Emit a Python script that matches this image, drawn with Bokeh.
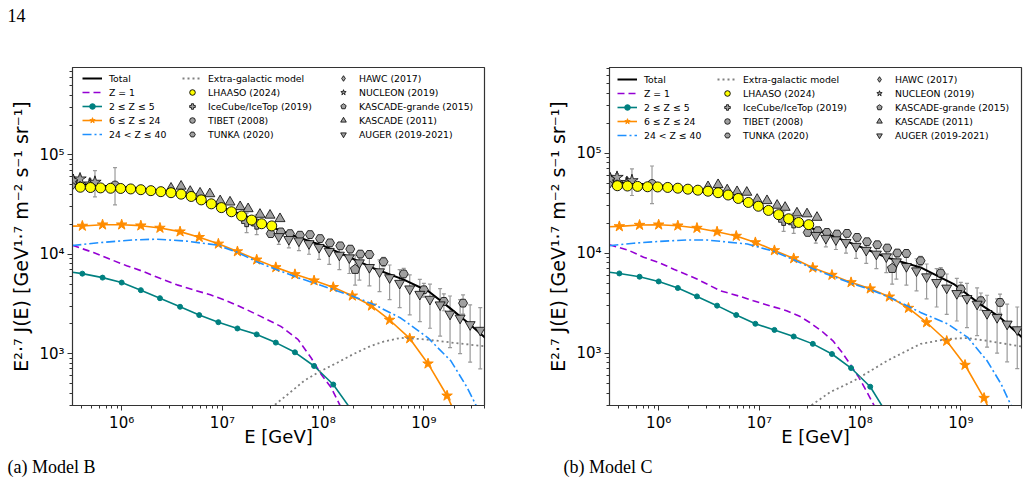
from bokeh.plotting import figure
from bokeh.layouts import row, column
from bokeh.models import (ColumnDataSource, Legend, LegendItem, Title, FixedTicker,
                          CustomJSTickFormatter, Whisker, TeeHead, Range1d)
from bokeh.core.properties import value
from bokeh.embed import file_html
from bokeh.resources import INLINE

FONT = "DejaVu Sans"
SERIF = "Liberation Serif"

# ---------------- model components (E in GeV, E^2.7 J in GeV^1.7 m^-2 s^-1 sr^-1) -------------
# star / dot positions of the 6<=Z<=24 and 2<=Z<=5 curves
E_grid = [3.24e5, 4.07e5, 6.46e5, 1.00e6, 1.55e6, 2.40e6, 3.80e6, 5.89e6, 9.12e6, 1.41e7, 2.19e7,
          3.39e7, 5.25e7, 8.13e7, 1.26e8, 1.95e8, 3.02e8, 4.57e8, 7.24e8, 1.10e9, 1.70e9, 2.51e9]

# Model B
B_cno = [19190, 19280, 19860, 19860, 19410, 18410, 16900, 14860, 12740, 10670, 8810,
         7380, 6280, 5430, 4660, 3820, 3030, 2180, 1420, 791, 376, 158]
B_he_E = [3.24e5, 4.07e5, 6.46e5, 1.00e6, 1.55e6, 2.40e6, 3.80e6, 5.89e6, 9.12e6, 1.41e7, 2.19e7,
          3.39e7, 5.25e7, 8.13e7, 1.26e8, 1.78e8, 2.24e8]
B_he = [6580, 6380, 5820, 5190, 4350, 3610, 2960, 2440, 2070, 1790, 1560, 1290, 1030, 750, 488, 299, 200]
B_p_E = [3.24e5, 5.25e5, 7.59e5, 1.12e6, 1.66e6, 2.40e6, 3.55e6, 5.13e6, 7.59e6, 1.05e7, 1.58e7,
         2.40e7, 3.80e7, 5.62e7, 7.59e7, 9.55e7, 1.20e8, 1.45e8, 1.66e8]
B_p = [12300, 10420, 8950, 7670, 6680, 5730, 4920, 4390, 3910, 3470, 2900, 2370, 1880, 1390, 908,
       619, 455, 310, 224]
B_fe_E = [3.24e5, 6.17e5, 1.32e6, 2.24e6, 4.47e6, 8.91e6, 1.41e7, 2.19e7, 3.39e7, 5.25e7, 8.13e7,
          1.26e8, 2.00e8, 3.24e8, 5.89e8, 1.10e9, 1.86e9, 2.69e9, 3.31e9, 4.17e9]
B_fe = [12250, 13120, 13960, 14190, 13550, 12360, 10470, 8410, 7050, 5960, 5130, 4420, 3760, 3100,
        2280, 1440, 841, 455, 299, 141]
B_eg_E = [2.51e7, 3.39e7, 4.47e7, 6.46e7, 8.91e7, 1.38e8, 2.00e8, 2.95e8, 3.98e8, 5.89e8, 9.33e8,
          1.26e9, 2.00e9, 4.17e9]
B_eg = [251, 310, 389, 531, 646, 809, 989, 1190, 1320, 1440, 1400, 1360, 1280, 1180]
B_tot_E = [3.24e5, 6.31e5, 1.00e6, 1.58e6, 2.51e6, 3.55e6, 5.01e6, 8.91e6, 1.58e7, 2.82e7, 5.01e7,
           1.00e8, 1.78e8, 3.16e8, 6.31e8, 1.12e9, 1.78e9, 2.82e9, 4.17e9]
B_tot = [51300, 49000, 47500, 45700, 43700, 40900, 37200, 30900, 25100, 19500, 15500, 12200, 9440,
         7240, 5560, 4220, 2920, 2000, 1410]

# Model C
C_cno = [18410, 18540, 19140, 19280, 18840, 17860, 16410, 14860, 12820, 10670, 8870,
         7160, 6050, 5110, 4420, 3670, 2830, 2030, 1324, 762, 356, 151]
C_he = [6460, 6280, 5820, 5220, 4490, 3700, 2990, 2410, 1970, 1710, 1470, 1240, 982, 711, 462, 263, 178]
C_p_E = [3.24e5, 5.01e5, 7.08e5, 1.00e6, 1.41e6, 2.40e6, 4.07e6, 6.31e6, 8.71e6, 1.26e7, 1.86e7,
         2.51e7, 3.16e7, 4.17e7, 5.37e7, 6.61e7, 7.94e7, 9.55e7, 1.15e8, 1.38e8, 1.58e8]
C_p = [12160, 10720, 9120, 8090, 6920, 5520, 4220, 3720, 3350, 2990, 2660, 2340, 2030, 1660, 1330,
       1020, 780, 589, 422, 299, 214]
C_fe_E = [3.24e5, 5.62e5, 1.00e6, 1.91e6, 3.02e6, 7.59e6, 1.38e7, 2.19e7, 3.39e7, 5.25e7, 8.13e7,
          1.26e8, 2.00e8, 3.98e8, 7.41e8, 1.17e9, 1.82e9, 2.51e9, 3.16e9, 4.17e9]
C_fe = [11890, 12590, 13120, 13550, 13550, 12360, 10470, 8610, 7000, 5920, 5010, 4320, 3590, 2560,
        1960, 1440, 841, 492, 299, 132]
C_eg_E = [2.51e7, 3.24e7, 5.01e7, 8.71e7, 1.86e8, 3.98e8, 7.41e8, 1.17e9, 1.82e9, 4.17e9]
C_eg = [245, 299, 407, 531, 841, 1240, 1390, 1420, 1330, 1160]
C_tot_E = [3.24e5, 6.31e5, 1.00e6, 1.58e6, 2.24e6, 4.17e6, 7.59e6, 1.38e7, 2.51e7, 4.68e7, 8.51e7,
           1.82e8, 3.98e8, 8.51e8, 1.55e9, 2.45e9, 4.17e9]
C_tot = [51900, 49500, 47900, 45200, 42200, 39100, 32200, 25600, 19600, 15600, 12400, 9080, 7210,
         4920, 3100, 2280, 1400]

# ---------------- measurements ----------------
lhaaso_E = [3.89e5, 4.90e5, 6.17e5, 7.76e5, 9.77e5, 1.23e6, 1.55e6, 1.95e6, 2.45e6, 3.09e6,
            3.89e6, 4.90e6, 6.17e6, 7.76e6, 9.77e6, 1.23e7, 1.55e7, 1.95e7, 2.45e7, 3.09e7]
lhaaso_J = [47300, 47000, 46600, 46200, 46000, 45500, 44700, 43700, 42700, 41700,
            40300, 38200, 35300, 32200, 29500, 26800, 24300, 22100, 20300, 19300]

nucleon_E = [3.31e5, 3.86e5, 4.84e5, 5.43e5]
nucleon_J = [55300, 57300, 51000, 53100]
nucleon_lo = [50500, 52500, 45000, 37800]
nucleon_hi = [60500, 62500, 57000, 69600]

hawc_E = [3.31e5]
hawc_J = [52000]

tibet_E = [8.59e5]
tibet_J = [49200]
tibet_lo = [31400]
tibet_hi = [74500]

icetop_E = [1.74e7, 2.19e7]
icetop_J = [21300, 20100]
icetop_lo = [16500, 15800]
icetop_hi = [26000, 25000]

kascade_E = [3.09e6, 3.89e6, 4.79e6, 6.00e6, 7.50e6, 9.50e6, 1.19e7, 1.50e7, 1.80e7, 2.36e7,
             2.97e7, 3.73e7]
kascade_J = [46200, 48400, 42900, 41200, 40600, 34500, 33500, 30100, 28700, 25200, 24700, 22800]

tunka_E = [3.02e7, 3.80e7, 4.68e7, 5.89e7, 7.41e7, 9.33e7, 1.17e8, 1.48e8, 1.86e8, 2.34e8,
           2.88e8, 3.98e8, 6.31e8, 1.00e9, 1.58e9, 2.45e9]
tunka_J = [16140, 16790, 16140, 15560, 15780, 14390, 13030, 12160, 11270, 10050, 9950, 8410,
           6340, 4390, 3350, 3220]
tunka_lo = [15300, 15900, 15300, 14700, 14900, 13500, 12200, 11300, 10400, 9200, 9100, 7500,
            5500, 3700, 2700, 2500]
tunka_hi = [17000, 17700, 17000, 16400, 16700, 15300, 13900, 13000, 12100, 10900, 10800, 9300,
            7200, 5100, 4000, 3900]

kgrande_E = [2.08e8]
kgrande_J = [7050]
kgrande_lo = [4900]
kgrande_hi = [9800]

auger_E = [3.63e7, 4.57e7, 5.75e7, 7.24e7, 9.12e7, 1.15e8, 1.45e8, 1.82e8, 2.29e8, 2.88e8, 3.63e8,
           4.57e8, 5.75e8, 7.24e8, 9.12e8, 1.15e9, 1.45e9, 1.82e9, 2.29e9, 2.88e9, 3.63e9]
auger_J = [15100, 14130, 13650, 12820, 11750, 10720, 9820, 9230, 8220, 7380, 6680, 5820, 5110,
           4490, 3960, 3530, 3100, 2500, 2280, 1960, 1720]
auger_lo = [12600, 11600, 10900, 10000, 8900, 7900, 7000, 6400, 5500, 4800, 4200, 3500, 2900,
            2450, 2100, 1800, 1500, 1150, 1000, 820, 700]
auger_hi = [17300, 16300, 16000, 15200, 14100, 13100, 12200, 11600, 10500, 9600, 8800, 7800,
            7000, 6200, 5600, 5000, 4500, 3800, 3500, 3100, 2900]

# ---------------- styling ----------------
C_TOTAL = "#000000"
C_P = "#9400d3"
C_HE = "#008080"
C_CNO = "#ff8c00"
C_FE = "#1e90ff"
C_EG = "#808080"
C_DATA = "#a0a0a0"
C_ERR = "#9a9a9a"

Y_TITLE = "E\u00b2\u00b7\u2077 J(E) [GeV\u00b9\u00b7\u2077 m\u207b\u00b2 s\u207b\u00b9 sr\u207b\u00b9]"
X_TITLE = "E [GeV]"
HEADER_H = 34


def power_labels():
    return CustomJSTickFormatter(code="""
        const s = {"0":"\u2070","1":"\u00b9","2":"\u00b2","3":"\u00b3","4":"\u2074",
                   "5":"\u2075","6":"\u2076","7":"\u2077","8":"\u2078","9":"\u2079","-":"\u207b"};
        const e = Math.round(Math.log10(tick));
        return "10" + String(e).split("").map(c => s[c]).join("");
    """)


def errbars(p, E, lo, hi):
    src = ColumnDataSource(dict(E=E, lo=lo, hi=hi))
    w = Whisker(source=src, base="E", lower="lo", upper="hi", dimension="height",
                line_color=C_ERR, line_width=1.2, level="underlay",
                upper_head=TeeHead(size=4, line_color=C_ERR, line_width=1.2),
                lower_head=TeeHead(size=4, line_color=C_ERR, line_width=1.2))
    p.add_layout(w)


def panel(m, width, b_left, b_right, b_top, y_top, leg_x, leg_y, caption, cap_off):
    p = figure(width=width, height=485 - HEADER_H, x_axis_type="log", y_axis_type="log",
               x_range=Range1d(3.25e5, 4.0e9), y_range=Range1d(300, y_top),
               output_backend="svg", toolbar_location=None, title=None,
               min_border_left=b_left, min_border_right=b_right,
               min_border_top=b_top, min_border_bottom=80)
    p.grid.visible = False
    p.outline_line_color = "#333333"
    p.outline_line_width = 1.2
    p.background_fill_color = "white"
    p.border_fill_color = "white"

    p.xaxis.ticker = FixedTicker(ticks=[1e6, 1e7, 1e8, 1e9],
                                 minor_ticks=[k * 10 ** e for e in range(5, 10) for k in range(2, 10)])
    p.yaxis.ticker = FixedTicker(ticks=[1e3, 1e4, 1e5],
                                 minor_ticks=[k * 10 ** e for e in range(2, 6) for k in range(2, 10)])
    for ax in (p.xaxis[0], p.yaxis[0]):
        ax.formatter = power_labels()
        ax.major_label_text_font = FONT
        ax.major_label_text_font_size = "15px"
        ax.major_label_text_color = "black"
        ax.major_tick_out = 5
        ax.major_tick_in = 0
        ax.minor_tick_out = 3
        ax.minor_tick_in = 0
        ax.major_label_standoff = 3
        ax.axis_line_color = "#333333"
        ax.major_tick_line_color = "#333333"
        ax.minor_tick_line_color = "#333333"
        ax.axis_label_text_font = FONT
        ax.axis_label_text_font_style = "normal"
        ax.axis_label_text_color = "black"
    p.yaxis.axis_label = Y_TITLE
    p.yaxis.axis_label_text_font_size = "19px"
    p.yaxis.axis_label_standoff = 4
    p.xaxis.axis_label = X_TITLE
    p.xaxis.axis_label_text_font_size = "18px"
    p.xaxis.axis_label_standoff = -9

    # model components
    r_p = p.line(m["p_E"], m["p"], color=C_P, line_width=1.6, line_dash="7 4")
    r_he = p.line(m["he_E"], m["he"], color=C_HE, line_width=1.6)
    r_he_m = p.scatter(m["he_E"][1:15], m["he"][1:15], marker="circle", size=5, color=C_HE)
    r_cno = p.line(E_grid, m["cno"], color=C_CNO, line_width=1.6)
    r_cno_m = p.scatter(E_grid[1:21], m["cno"][1:21], marker="star", size=11, color=C_CNO)
    r_fe = p.line(m["fe_E"], m["fe"], color=C_FE, line_width=1.6, line_dash="9 3 2 3")
    r_eg = p.line(m["eg_E"], m["eg"], color=C_EG, line_width=1.8, line_dash="2 3")
    r_tot = p.line(m["tot_E"], m["tot"], color=C_TOTAL, line_width=2.0)

    # measurements
    errbars(p, nucleon_E, nucleon_lo, nucleon_hi)
    errbars(p, tibet_E, tibet_lo, tibet_hi)
    errbars(p, icetop_E, icetop_lo, icetop_hi)
    errbars(p, tunka_E, tunka_lo, tunka_hi)
    errbars(p, kgrande_E, kgrande_lo, kgrande_hi)
    errbars(p, auger_E, auger_lo, auger_hi)

    dk = dict(fill_color=C_DATA, line_color="black", line_width=0.8)
    r_hawc = p.scatter(hawc_E, hawc_J, marker="diamond", size=12, **dk)
    r_tibet = p.scatter(tibet_E, tibet_J, marker="circle", size=9, **dk)
    r_ice = p.scatter(icetop_E, icetop_J, marker="plus", size=10, **dk)
    r_kg = p.ngon(kgrande_E, kgrande_J, radius=5, n=5, radius_units="screen", **dk)
    r_tunka = p.scatter(tunka_E, tunka_J, marker="hex", size=9, **dk)
    r_kas = p.scatter(kascade_E, kascade_J, marker="triangle", size=10, **dk)
    r_aug = p.scatter(auger_E, auger_J, marker="inverted_triangle", size=10, **dk)
    r_nuc = p.scatter(nucleon_E, nucleon_J, marker="star", size=13, **dk)
    r_lh = p.scatter(lhaaso_E, lhaaso_J, marker="circle", size=10, fill_color="#ffff00",
                     line_color="black", line_width=0.9)

    cols = [
        [("Total", [r_tot]), ("Z = 1", [r_p]), ("2 \u2264 Z \u2264 5", [r_he, r_he_m]),
         ("6 \u2264 Z \u2264 24", [r_cno, r_cno_m]), ("24 < Z \u2264 40", [r_fe])],
        [("Extra-galactic model", [r_eg]), ("LHAASO (2024)", [r_lh]),
         ("IceCube/IceTop (2019)", [r_ice]), ("TIBET (2008)", [r_tibet]),
         ("TUNKA (2020)", [r_tunka])],
        [("HAWC (2017)", [r_hawc]), ("NUCLEON (2019)", [r_nuc]),
         ("KASCADE-grande (2015)", [r_kg]), ("KASCADE (2011)", [r_kas]),
         ("AUGER (2019-2021)", [r_aug])],
    ]
    for col, x0, std in zip(cols, leg_x, (7, 6, 6)):
        leg = Legend(items=[LegendItem(label=t, renderers=r) for t, r in col],
                     location=(x0, leg_y), orientation="vertical", padding=0, margin=0,
                     spacing=0, glyph_width=20, glyph_height=14, label_height=14,
                     label_standoff=std, label_text_font=FONT, label_text_font_size="9.3px",
                     label_text_color="black",
                     background_fill_alpha=0, border_line_alpha=0)
        p.add_layout(leg)

    # caption under the panel
    p.add_layout(Title(text=caption, align="left", offset=cap_off, standoff=10,
                       text_font=SERIF, text_font_size="18px", text_font_style="normal",
                       text_color="black"), "below")
    return p


model_B = dict(cno=B_cno, he_E=B_he_E, he=B_he, p_E=B_p_E, p=B_p, fe_E=B_fe_E, fe=B_fe,
               eg_E=B_eg_E, eg=B_eg, tot_E=B_tot_E, tot=B_tot)
model_C = dict(cno=C_cno, he_E=B_he_E, he=C_he, p_E=C_p_E, p=C_p, fe_E=C_fe_E, fe=C_fe,
               eg_E=C_eg_E, eg=C_eg, tot_E=C_tot_E, tot=C_tot)

# page header strip carrying the page number
header = figure(width=1028, height=HEADER_H, x_range=Range1d(0, 1028), y_range=Range1d(HEADER_H, 0),
                output_backend="svg", toolbar_location=None, title=None,
                min_border=0, outline_line_color=None)
header.axis.visible = False
header.grid.visible = False
header.text(x=[7], y=[8], text=["14"], text_baseline="top", text_align="left",
            text_font=value(SERIF), text_font_size="18px", text_color="black")

left = panel(model_B, 537, 72, 53, 65 - HEADER_H, 7.6e5, (10, 110, 261), 264, "(a) Model B", -65)
right = panel(model_C, 491, 72, 7, 67 - HEADER_H, 7.2e5, (8, 108, 260), 263, "(b) Model C", -46)

layout = column(header, row(left, right))
open("out.html", "w").write(file_html(layout, INLINE))
